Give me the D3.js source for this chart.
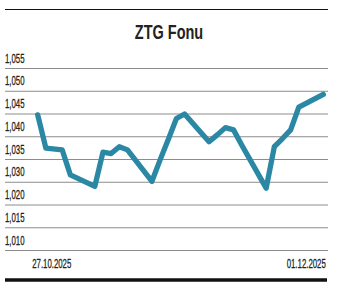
<!DOCTYPE html>
<html>
<head>
<meta charset="utf-8">
<script src="https://cdn.jsdelivr.net/npm/d3@7"></script>
<style>
    body { margin: 0; background: #fff; }
    svg { display: block; }
    text { font-family: 'Liberation Sans', Arial, sans-serif; fill: #222; }
</style>
</head>
<body>
<div id="viz"></div>
<script>
const title = 'ZTG Fonu';
const dates = ['27.10.2025', '28.10.2025', '30.10.2025', '31.10.2025',
               '03.11.2025', '04.11.2025', '05.11.2025', '06.11.2025', '07.11.2025',
               '10.11.2025', '11.11.2025', '12.11.2025', '13.11.2025', '14.11.2025',
               '17.11.2025', '18.11.2025', '19.11.2025', '20.11.2025', '21.11.2025',
               '24.11.2025', '25.11.2025', '26.11.2025', '27.11.2025', '28.11.2025',
               '01.12.2025'];
const prices = [1.0447, 1.0374, 1.0370, 1.0315,
                1.0290, 1.0365, 1.0362, 1.0377, 1.0370,
                1.0301, 1.0348, 1.0393, 1.0439, 1.0449,
                1.0388, 1.0403, 1.0419, 1.0414, 1.0381,
                1.0286, 1.0377, 1.0395, 1.0414, 1.0464,
                1.0492];
const yTicks = [1.015, 1.020, 1.025, 1.030, 1.035, 1.040, 1.045, 1.050, 1.055];
const yTickLabels = ['1,010', '1,015', '1,020', '1,030', '1,035', '1,040', '1,045', '1,050', '1,055'];
const xTickLabels = ['27.10.2025', '01.12.2025'];

const width = 340;
const height = 290;
const left = 5;
const right = 328;
const squeeze = 'scale(0.58, 1)';   // the print font is very condensed

const parse = d3.utcParse('%d.%m.%Y');
const data = dates.map((d, i) => ({ date: parse(d), value: prices[i] }));

const svg = d3.select('#viz')
              .append('svg')
              .attr('width', width)
              .attr('height', height);

const x = d3.scaleUtc()
            .domain([parse(dates[0]), parse(dates[dates.length - 1])])
            .range([37.7, 323.3]);
const y = d3.scaleLinear().domain([1.015, 1.055]).range([250, 68]);

// top rule
svg.append('line')
   .attr('x1', left).attr('x2', right)
   .attr('y1', 9.5).attr('y2', 9.5)
   .attr('stroke', '#111').attr('stroke-width', 1.2);

svg.append('text')
   .attr('transform', 'translate(169, 38.5) scale(0.69, 1)')
   .attr('text-anchor', 'middle')
   .style('font-size', '21px')
   .style('font-weight', 'bold')
   .attr('fill', '#1a1a1a')
   .text(title);

// gridlines + labels above them
const yAxis = d3.axisRight(y)
                .tickValues(yTicks)
                .tickSize(right - left)
                .tickFormat((d, i) => yTickLabels[i]);
const gy = svg.append('g')
              .attr('transform', 'translate(' + left + ', 0)')
              .call(yAxis);
gy.select('.domain').remove();
gy.selectAll('.tick line').attr('stroke', '#8c8c8c').attr('stroke-width', 1);
gy.selectAll('.tick text')
  .attr('x', 0)
  .attr('dy', 0)
  .attr('y', -6)
  .attr('text-anchor', 'start')
  .attr('transform', squeeze)
  .style('font-size', '13.5px')
  .style('font-family', "'Liberation Sans', Arial, sans-serif")
  .attr('fill', '#222')
  .attr('stroke', '#222')
  .attr('stroke-width', 0.3);

// date labels
const xAxis = d3.axisBottom(x)
                .tickValues(xTickLabels.map(parse))
                .tickSize(0)
                .tickFormat((d, i) => xTickLabels[i]);
const gx = svg.append('g')
              .attr('transform', 'translate(0, 255)')
              .call(xAxis);
gx.select('.domain').remove();
gx.selectAll('.tick text')
  .attr('y', 13)
  .attr('dy', 0)
  .attr('text-anchor', (d, i) => i === 0 ? 'start' : 'end')
  .attr('transform', (d, i) => (i === 0 ? 'translate(-6, 0) ' : 'translate(2, 0) ') + squeeze)
  .style('font-size', '13.5px')
  .style('font-family', "'Liberation Sans', Arial, sans-serif")
  .attr('fill', '#222')
  .attr('stroke', '#222')
  .attr('stroke-width', 0.3);

// price line
const line = d3.line()
               .x(d => x(d.date))
               .y(d => y(d.value));
svg.append('path')
   .datum(data)
   .attr('d', line)
   .attr('fill', 'none')
   .attr('stroke', '#2b88a5')
   .attr('stroke-width', 5.3)
   .attr('stroke-linejoin', 'round')
   .attr('stroke-linecap', 'round');

// bottom bar
svg.append('line')
   .attr('x1', left).attr('x2', right - 1)
   .attr('y1', 280).attr('y2', 280)
   .attr('stroke', '#111').attr('stroke-width', 3.4);
</script>
</body>
</html>
